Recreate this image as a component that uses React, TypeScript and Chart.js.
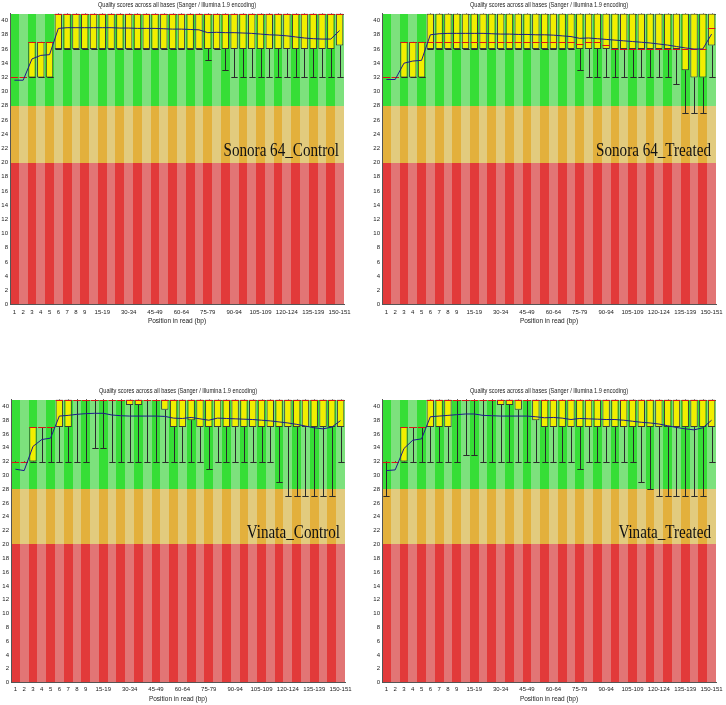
import React, { useEffect, useRef } from "react";
import { Chart, registerables } from "chart.js";

Chart.register(...registerables);

// ---------- data ----------
const categories = [
  "1", "2", "3", "4", "5", "6", "7", "8", "9",
  "10-14", "15-19", "20-24", "25-29", "30-34", "35-39", "40-44", "45-49",
  "50-54", "55-59", "60-64", "65-69", "70-74", "75-79", "80-84", "85-89",
  "90-94", "95-99", "100-104", "105-109", "110-114", "115-119", "120-124",
  "125-129", "130-134", "135-139", "140-144", "145-149", "150-151",
];
const shownTicks = [
  "1", "2", "3", "4", "5", "6", "7", "8", "9", "15-19", "30-34", "45-49",
  "60-64", "75-79", "90-94", "105-109", "120-124", "135-139", "150-151",
];
const yTicks = [0, 2, 4, 6, 8, 10, 12, 14, 16, 18, 20, 22, 24, 26, 28, 30, 32, 34, 36, 38, 40];
const zoneBounds = [0, 20, 28, 41];
const chartTitle = "Quality scores across all bases (Sanger / Illumina 1.9 encoding)";
const xTitle = "Position in read (bp)";

// Sonora 64_Control
const tlQ1 = [32, 32, 32, 32, 32, 36, 36, 36, 36, 36, 36, 36, 36, 36, 36, 36, 36, 36, 36, 36, 36, 36, 36, 36, 36, 36, 36, 36, 36, 36, 36, 36, 36, 36, 36, 36, 36, 36.5];
const tlQ3 = [32, 32, 37, 37, 37, 41, 41, 41, 41, 41, 41, 41, 41, 41, 41, 41, 41, 41, 41, 41, 41, 41, 41, 41, 41, 41, 41, 41, 41, 41, 41, 41, 41, 41, 41, 41, 41, 41];
const tlMed = [32, 32, 37, 37, 37, 41, 41, 41, 41, 41, 41, 41, 41, 41, 41, 41, 41, 41, 41, 41, 41, 41, 41, 41, 41, 41, 41, 41, 41, 41, 41, 41, 41, 41, 41, 41, 41, 41];
const tlP10 = [32, 32, 32, 32, 32, 36, 36, 36, 36, 36, 36, 36, 36, 36, 36, 36, 36, 36, 36, 36, 36, 36, 34.4, 36, 33, 32, 32, 32, 32, 32, 32, 32, 32, 32, 32, 32, 32, 32];
const tlP90 = [32, 32, 37, 37, 37, 41, 41, 41, 41, 41, 41, 41, 41, 41, 41, 41, 41, 41, 41, 41, 41, 41, 41, 41, 41, 41, 41, 41, 41, 41, 41, 41, 41, 41, 41, 41, 41, 41];
const tlMean = [31.6, 31.6, 34.6, 35.1, 35.2, 38.9, 39.0, 39.0, 39.0, 39.0, 39.0, 39.0, 38.95, 38.95, 38.9, 38.9, 38.9, 38.85, 38.8, 38.8, 38.75, 38.7, 38.3, 38.35, 38.3, 38.3, 38.25, 38.2, 38.1, 38.0, 37.95, 37.85, 37.7, 37.55, 37.45, 37.4, 37.4, 38.6];

// Sonora 64_Treated
const trQ1 = [32, 32, 32, 32, 32, 36, 36, 36, 36, 36, 36, 36, 36, 36, 36, 36, 36, 36, 36, 36, 36, 36, 36, 36, 36, 36, 36, 36, 36, 36, 36, 36, 36, 36, 33, 32, 32, 36.5];
const trQ3 = [32, 32, 37, 37, 37, 41, 41, 41, 41, 41, 41, 41, 41, 41, 41, 41, 41, 41, 41, 41, 41, 41, 41, 41, 41, 41, 41, 41, 41, 41, 41, 41, 41, 41, 41, 41, 41, 41];
const trMed = [32, 32, 37, 37, 37, 37, 37, 37, 37, 37, 37, 37, 37, 37, 37, 37, 37, 37, 37, 37, 37, 37, 36.7, 37, 37, 36.5, 36, 36, 36, 36, 36, 36, 36, 36, 36, 36, 36, 39];
const trP10 = [32, 32, 32, 32, 32, 36, 36, 36, 36, 36, 36, 36, 36, 36, 36, 36, 36, 36, 36, 36, 36, 36, 33, 32, 32, 32, 32, 32, 32, 32, 32, 32, 32, 31, 27, 27, 27, 32];
const trP90 = [32, 32, 37, 37, 37, 41, 41, 41, 41, 41, 41, 41, 41, 41, 41, 41, 41, 41, 41, 41, 41, 41, 41, 41, 41, 41, 41, 41, 41, 41, 41, 41, 41, 41, 41, 41, 41, 41];
const trMean = [31.7, 31.7, 34.0, 34.3, 34.4, 38.0, 38.15, 38.2, 38.2, 38.2, 38.2, 38.2, 38.15, 38.1, 38.1, 38.05, 38.05, 38.0, 38.0, 37.95, 37.85, 37.75, 37.5, 37.55, 37.45, 37.35, 37.25, 37.15, 37.05, 36.95, 36.85, 36.7, 36.55, 36.35, 36.15, 36.0, 36.0, 38.1];

// Vinata_Control
const blQ1 = [32, 32, 32, 37, 37, 37, 37, 41, 41, 41, 41, 41, 41, 40.2, 40.2, 41, 41, 39.5, 37, 37, 38, 37, 37, 37, 37, 37, 37, 37, 37, 37, 37, 37, 37, 37, 37, 37, 37, 37];
const blQ3 = [32, 32, 37, 37, 37, 41, 41, 41, 41, 41, 41, 41, 41, 41, 41, 41, 41, 41, 41, 41, 41, 41, 41, 41, 41, 41, 41, 41, 41, 41, 41, 41, 41, 41, 41, 41, 41, 41];
const blMed = [32, 32, 37, 37, 37, 41, 41, 41, 41, 41, 41, 41, 41, 41, 41, 41, 41, 41, 41, 41, 41, 41, 41, 41, 41, 41, 41, 41, 41, 41, 41, 41, 41, 41, 41, 41, 41, 41];
const blP10 = [32, 32, 32, 32, 32, 32, 32, 32, 32, 34, 34, 32, 32, 32, 32, 32, 32, 32, 32, 32, 32, 32, 31, 32, 32, 32, 32, 32, 32, 32, 29, 27, 27, 27, 27, 27, 27, 32];
const blP90 = [32, 32, 37, 37, 37, 41, 41, 41, 41, 41, 41, 41, 41, 41, 41, 41, 41, 41, 41, 41, 41, 41, 41, 41, 41, 41, 41, 41, 41, 41, 41, 41, 41, 41, 41, 41, 41, 41];
const blMean = [30.9, 30.7, 34.2, 35.2, 35.4, 38.6, 38.7, 38.85, 38.95, 39.0, 39.0, 38.75, 38.65, 38.6, 38.6, 38.6, 38.6, 38.55, 38.3, 38.25, 38.4, 38.2, 38.0, 38.3, 38.25, 38.2, 38.15, 38.1, 38.0, 37.9, 37.75, 37.6, 37.4, 37.15, 36.9, 36.75, 37.0, 37.95];

// Vinata_Treated
const brQ1 = [32, 32, 32, 37, 37, 37, 37, 37, 41, 41, 41, 41, 41, 40.2, 40.2, 39.5, 41, 38, 37, 37, 37, 37, 37, 37, 37, 37, 37, 37, 37, 37, 37, 37, 37, 37, 37, 37, 37, 37];
const brQ3 = [32, 32, 37, 37, 37, 41, 41, 41, 41, 41, 41, 41, 41, 41, 41, 41, 41, 41, 41, 41, 41, 41, 41, 41, 41, 41, 41, 41, 41, 41, 41, 41, 41, 41, 41, 41, 41, 41];
const brMed = [32, 32, 37, 37, 37, 41, 41, 41, 41, 41, 41, 41, 41, 41, 41, 41, 41, 41, 41, 41, 41, 41, 41, 41, 41, 41, 41, 41, 41, 41, 41, 41, 41, 41, 41, 41, 41, 41];
const brP10 = [27, 32, 32, 32, 32, 32, 32, 32, 32, 33, 33, 32, 32, 32, 32, 32, 32, 32, 32, 32, 32, 32, 31, 32, 32, 32, 32, 32, 32, 29, 28, 27, 27, 27, 27, 27, 27, 32];
const brP90 = [32, 32, 37, 37, 37, 41, 41, 41, 41, 41, 41, 41, 41, 41, 41, 41, 41, 41, 41, 41, 41, 41, 41, 41, 41, 41, 41, 41, 41, 41, 41, 41, 41, 41, 41, 41, 41, 41];
const brMean = [30.7, 30.8, 33.9, 35.1, 35.3, 38.5, 38.6, 38.7, 38.8, 38.9, 38.9, 38.7, 38.65, 38.6, 38.6, 38.6, 38.6, 38.5, 38.35, 38.4, 38.3, 38.1, 38.25, 38.2, 38.15, 38.1, 38.1, 38.0, 37.85, 37.7, 37.6, 37.45, 37.2, 36.95, 36.75, 36.6, 36.9, 38.0];

// ---------- styles ----------
const ZONE_COLORS = [
  ["#e23a3a", "#e27575"], // red (dark, light)
  ["#e3b03c", "#e2cb7e"], // orange
  ["#36de36", "#7de17d"], // green
];
const BOX_FILL = "#f2ee00";
const BOX_BORDER = "#3a3a3a";
const WHISKER = "#2a2a2a";
const MEDIAN = "#dd1515";
const MEAN = "#1c1c8c";
const AXIS = "#555555";
const TEXT = "#222222";
const SANS = "'Liberation Sans', Arial, sans-serif";
const SERIF = "'Liberation Serif', 'Times New Roman', serif";

type Panel = {
  key: string;
  name: string;
  q1: number[]; q3: number[]; med: number[]; p10: number[]; p90: number[]; mean: number[];
  frame: { left: number; top: number; width: number; height: number };
  pad: { top: number; right: number; bottom: number };
  xAxisH: number;
  xTickPad: number;
  nameValue: number;
};

const panels: Panel[] = [
  {
    key: "tl", name: "Sonora 64_Control",
    q1: tlQ1, q3: tlQ3, med: tlMed, p10: tlP10, p90: tlP90, mean: tlMean,
    frame: { left: 0, top: 0, width: 363, height: 330 },
    pad: { top: 13.5, right: 19, bottom: 4.5 }, xAxisH: 21, xTickPad: 4, nameValue: 21.6,
  },
  {
    key: "tr", name: "Sonora 64_Treated",
    q1: trQ1, q3: trQ3, med: trMed, p10: trP10, p90: trP90, mean: trMean,
    frame: { left: 372, top: 0, width: 354, height: 330 },
    pad: { top: 13.5, right: 10, bottom: 4.5 }, xAxisH: 21, xTickPad: 4, nameValue: 21.6,
  },
  {
    key: "bl", name: "Vinata_Control",
    q1: blQ1, q3: blQ3, med: blMed, p10: blP10, p90: blP90, mean: blMean,
    frame: { left: 1, top: 386, width: 362, height: 319 },
    pad: { top: 13.5, right: 18, bottom: 2 }, xAxisH: 20.5, xTickPad: 3.5, nameValue: 21.6,
  },
  {
    key: "br", name: "Vinata_Treated",
    q1: brQ1, q3: brQ3, med: brMed, p10: brP10, p90: brP90, mean: brMean,
    frame: { left: 372, top: 386, width: 354, height: 319 },
    pad: { top: 13.5, right: 10, bottom: 2 }, xAxisH: 20.5, xTickPad: 3.5, nameValue: 21.6,
  },
];

function scaledText(ctx: CanvasRenderingContext2D, text: string, x: number, y: number, font: string, sx: number, align: CanvasTextAlign, color: string) {
  ctx.save();
  ctx.translate(x, y);
  ctx.scale(sx, 1);
  ctx.font = font;
  ctx.textAlign = align;
  ctx.textBaseline = "middle";
  ctx.fillStyle = color;
  ctx.fillText(text, 0, 0);
  ctx.restore();
}

const decorPlugin = {
  id: "fastqcDecor",
  beforeDraw(chart: any) {
    const { ctx } = chart;
    const x = chart.scales.x;
    const y = chart.scales.y;
    const step = x.getPixelForValue(1) - x.getPixelForValue(0);
    ctx.save();
    for (let i = 0; i < categories.length; i++) {
      const c = x.getPixelForValue(i);
      const x0 = Math.round(c - step / 2);
      const x1 = Math.round(c + step / 2);
      for (let z = 0; z < zoneBounds.length - 1; z++) {
        const yTop = Math.round(y.getPixelForValue(zoneBounds[z + 1]));
        const yBot = Math.round(y.getPixelForValue(zoneBounds[z]));
        ctx.fillStyle = ZONE_COLORS[z][i % 2];
        ctx.fillRect(x0, yTop, x1 - x0, yBot - yTop);
      }
    }
    ctx.restore();
  },
  beforeDatasetsDraw(chart: any, _args: any, opts: any) {
    const p: Panel = opts.panel;
    const { ctx } = chart;
    const x = chart.scales.x;
    const y = chart.scales.y;
    const step = x.getPixelForValue(1) - x.getPixelForValue(0);
    const half = step * 0.36;
    ctx.save();
    ctx.strokeStyle = WHISKER;
    ctx.lineWidth = 1;
    for (let i = 0; i < categories.length; i++) {
      const cx = Math.round(x.getPixelForValue(i)) + 0.5;
      const yq1 = y.getPixelForValue(p.q1[i]);
      const yq3 = y.getPixelForValue(p.q3[i]);
      const y10 = Math.round(y.getPixelForValue(p.p10[i])) + 0.5;
      const y90 = Math.round(y.getPixelForValue(p.p90[i])) + 0.5;
      ctx.beginPath();
      ctx.moveTo(cx, yq1); ctx.lineTo(cx, y10);
      ctx.moveTo(cx - half, y10); ctx.lineTo(cx + half, y10);
      ctx.moveTo(cx, yq3); ctx.lineTo(cx, y90);
      ctx.moveTo(cx - half, y90); ctx.lineTo(cx + half, y90);
      ctx.stroke();
    }
    ctx.restore();
  },
  afterDatasetDraw(chart: any, args: any, opts: any) {
    if (args.index !== 1) return;
    const p: Panel = opts.panel;
    const { ctx } = chart;
    const x = chart.scales.x;
    const y = chart.scales.y;
    const meta = chart.getDatasetMeta(1);
    ctx.save();
    ctx.strokeStyle = MEDIAN;
    ctx.lineWidth = 1;
    for (let i = 0; i < categories.length; i++) {
      const w = meta.data[i].width;
      const cx = x.getPixelForValue(i);
      const ym = Math.round(y.getPixelForValue(p.med[i])) + 0.5;
      ctx.beginPath();
      ctx.moveTo(cx - w / 2, ym);
      ctx.lineTo(cx + w / 2, ym);
      ctx.stroke();
    }
    ctx.restore();
  },
  afterDraw(chart: any, _args: any, opts: any) {
    const p: Panel = opts.panel;
    const { ctx, chartArea } = chart;
    const y = chart.scales.y;
    const cx = (chartArea.left + chartArea.right) / 2;
    scaledText(ctx, chartTitle, cx, chartArea.top - 8.5, `7px ${SANS}`, 0.8, "center", TEXT);
    scaledText(ctx, p.name, chartArea.right - 5, y.getPixelForValue(p.nameValue), `18px ${SERIF}`, 0.84, "right", "#111111");
  },
};

function buildConfig(p: Panel): any {
  return {
    type: "bar",
    data: {
      labels: categories,
      datasets: [
        {
          type: "line",
          data: p.mean,
          borderColor: MEAN,
          borderWidth: 1,
          pointRadius: 0,
          tension: 0,
          fill: false,
          order: 0,
        },
        {
          type: "bar",
          data: p.q1.map((v, i) => [v, p.q3[i]]),
          backgroundColor: BOX_FILL,
          borderColor: BOX_BORDER,
          borderWidth: 1,
          borderSkipped: false,
          barPercentage: 0.84,
          categoryPercentage: 1,
          order: 1,
        },
      ],
    },
    options: {
      animation: false,
      responsive: false,
      devicePixelRatio: 1,
      events: [],
      layout: { padding: { top: p.pad.top, right: p.pad.right, bottom: p.pad.bottom, left: 0 } },
      plugins: {
        legend: { display: false },
        tooltip: { enabled: false },
        title: { display: false },
        fastqcDecor: { panel: p },
      },
      scales: {
        x: {
          type: "category",
          offset: true,
          grid: { display: false, drawTicks: false },
          border: { display: true, color: AXIS, width: 1 },
          ticks: {
            autoSkip: false,
            maxRotation: 0,
            minRotation: 0,
            padding: p.xTickPad,
            color: TEXT,
            font: { family: SANS, size: 6 },
            callback: (_v: any, idx: number) => (shownTicks.includes(categories[idx]) ? categories[idx] : ""),
          },
          title: {
            display: true,
            text: xTitle,
            color: TEXT,
            font: { family: SANS, size: 6.5 },
            padding: 0,
          },
          afterFit: (s: any) => {
            s.height = p.xAxisH;
            s.paddingLeft = 0;
            s.paddingRight = 0;
          },
        },
        y: {
          type: "linear",
          min: 0,
          max: 41,
          grid: { display: false, drawTicks: false },
          border: { display: true, color: AXIS, width: 1 },
          ticks: {
            padding: 2,
            color: TEXT,
            font: { family: SANS, size: 6 },
          },
          afterBuildTicks: (s: any) => {
            s.ticks = yTicks.map((v) => ({ value: v }));
          },
          afterFit: (s: any) => {
            s.width = 10;
            s.paddingTop = 0;
            s.paddingBottom = 0;
          },
        },
      },
    },
    plugins: [decorPlugin],
  };
}

function PanelChart({ panel }: { panel: Panel }) {
  const ref = useRef<HTMLCanvasElement>(null);
  useEffect(() => {
    const chart = new Chart(ref.current as HTMLCanvasElement, buildConfig(panel));
    return () => chart.destroy();
  }, [panel]);
  const f = panel.frame;
  return (
    <canvas
      ref={ref}
      width={f.width}
      height={f.height}
      style={{ position: "absolute", left: f.left, top: f.top, width: f.width, height: f.height }}
    />
  );
}

export default function App() {
  return (
    <div style={{ position: "absolute", left: 0, top: 0, width: 726, height: 705, background: "#ffffff", overflow: "hidden" }}>
      {panels.map((p) => (
        <PanelChart key={p.key} panel={p} />
      ))}
    </div>
  );
}
